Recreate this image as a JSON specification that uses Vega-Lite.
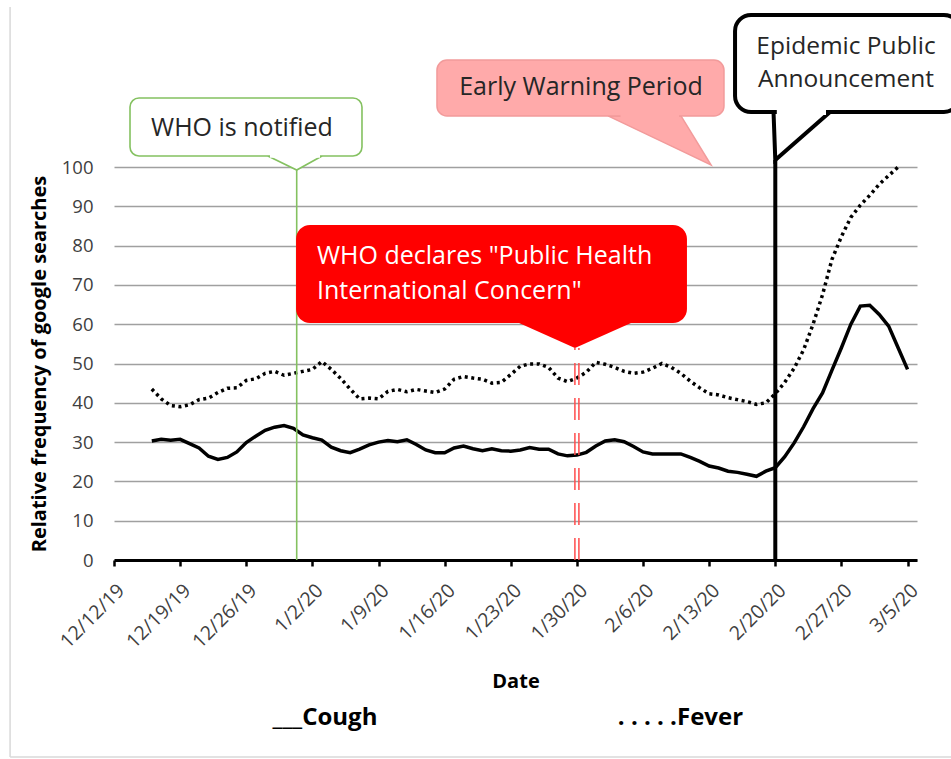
{
  "$schema": "https://vega.github.io/schema/vega-lite/v6.json",
  "width": 803,
  "height": 393,
  "autosize": {"type": "none"},
  "padding": {"left": 114, "top": 167, "right": 34, "bottom": 199},
  "background": "white",
  "config": {"font": "Open Sans", "view": {"stroke": null}},
  "data": {"values": [{}]},
  "resolve": {"axis": {"x": "independent", "y": "independent"}},
  "datasets": {
    "trends": [
      {"date": "2019-12-16T00:00", "cough": 30.3, "fever": 43.5},
      {"date": "2019-12-17T00:00", "cough": 30.7, "fever": 41},
      {"date": "2019-12-18T00:00", "cough": 30.5, "fever": 39.3},
      {"date": "2019-12-19T00:00", "cough": 30.7, "fever": 39},
      {"date": "2019-12-20T00:00", "cough": 29.6, "fever": 39.5},
      {"date": "2019-12-21T00:00", "cough": 28.5, "fever": 40.8},
      {"date": "2019-12-22T00:00", "cough": 26.4, "fever": 41.2},
      {"date": "2019-12-23T00:00", "cough": 25.6, "fever": 42.6},
      {"date": "2019-12-24T00:00", "cough": 26.1, "fever": 43.7},
      {"date": "2019-12-25T00:00", "cough": 27.5, "fever": 43.8},
      {"date": "2019-12-26T00:00", "cough": 29.9, "fever": 45.7},
      {"date": "2019-12-27T00:00", "cough": 31.5, "fever": 46.1},
      {"date": "2019-12-28T00:00", "cough": 33, "fever": 47.5},
      {"date": "2019-12-29T00:00", "cough": 33.8, "fever": 48},
      {"date": "2019-12-30T00:00", "cough": 34.2, "fever": 47},
      {"date": "2019-12-31T00:00", "cough": 33.5, "fever": 47.5},
      {"date": "2020-01-01T00:00", "cough": 31.8, "fever": 48},
      {"date": "2020-01-02T00:00", "cough": 31.1, "fever": 48.5},
      {"date": "2020-01-03T00:00", "cough": 30.5, "fever": 50.5},
      {"date": "2020-01-04T00:00", "cough": 28.7, "fever": 48.5},
      {"date": "2020-01-05T00:00", "cough": 27.8, "fever": 46.2},
      {"date": "2020-01-06T00:00", "cough": 27.3, "fever": 43.5},
      {"date": "2020-01-07T00:00", "cough": 28.2, "fever": 41},
      {"date": "2020-01-08T00:00", "cough": 29.3, "fever": 41.2},
      {"date": "2020-01-09T00:00", "cough": 30, "fever": 41},
      {"date": "2020-01-10T00:00", "cough": 30.4, "fever": 42.9},
      {"date": "2020-01-11T00:00", "cough": 30.1, "fever": 43.4},
      {"date": "2020-01-12T00:00", "cough": 30.6, "fever": 42.8},
      {"date": "2020-01-13T00:00", "cough": 29.4, "fever": 43.4},
      {"date": "2020-01-14T00:00", "cough": 28, "fever": 43},
      {"date": "2020-01-15T00:00", "cough": 27.3, "fever": 42.6},
      {"date": "2020-01-16T00:00", "cough": 27.3, "fever": 43.5},
      {"date": "2020-01-17T00:00", "cough": 28.5, "fever": 46},
      {"date": "2020-01-18T00:00", "cough": 29, "fever": 46.7},
      {"date": "2020-01-19T00:00", "cough": 28.3, "fever": 46.3},
      {"date": "2020-01-20T00:00", "cough": 27.8, "fever": 46},
      {"date": "2020-01-21T00:00", "cough": 28.3, "fever": 45},
      {"date": "2020-01-22T00:00", "cough": 27.8, "fever": 45.2},
      {"date": "2020-01-23T00:00", "cough": 27.7, "fever": 47.2},
      {"date": "2020-01-24T00:00", "cough": 28, "fever": 49.3},
      {"date": "2020-01-25T00:00", "cough": 28.6, "fever": 49.9},
      {"date": "2020-01-26T00:00", "cough": 28.2, "fever": 49.9},
      {"date": "2020-01-27T00:00", "cough": 28.2, "fever": 49},
      {"date": "2020-01-28T00:00", "cough": 27, "fever": 46.3},
      {"date": "2020-01-29T00:00", "cough": 26.5, "fever": 45.4},
      {"date": "2020-01-30T00:00", "cough": 26.7, "fever": 46.3},
      {"date": "2020-01-31T00:00", "cough": 27.4, "fever": 47.8},
      {"date": "2020-02-01T00:00", "cough": 29, "fever": 50.3},
      {"date": "2020-02-02T00:00", "cough": 30.3, "fever": 49.8},
      {"date": "2020-02-03T00:00", "cough": 30.6, "fever": 49},
      {"date": "2020-02-04T00:00", "cough": 30.1, "fever": 48},
      {"date": "2020-02-05T00:00", "cough": 28.9, "fever": 47.5},
      {"date": "2020-02-06T00:00", "cough": 27.5, "fever": 47.8},
      {"date": "2020-02-07T00:00", "cough": 27, "fever": 48.8},
      {"date": "2020-02-08T00:00", "cough": 27, "fever": 50},
      {"date": "2020-02-09T00:00", "cough": 27, "fever": 49},
      {"date": "2020-02-10T00:00", "cough": 27, "fever": 47.5},
      {"date": "2020-02-11T00:00", "cough": 26.1, "fever": 45.5},
      {"date": "2020-02-12T00:00", "cough": 25.1, "fever": 43.8},
      {"date": "2020-02-13T00:00", "cough": 23.9, "fever": 42.3},
      {"date": "2020-02-14T00:00", "cough": 23.4, "fever": 42},
      {"date": "2020-02-15T00:00", "cough": 22.6, "fever": 41.3},
      {"date": "2020-02-16T00:00", "cough": 22.3, "fever": 40.8},
      {"date": "2020-02-17T00:00", "cough": 21.8, "fever": 40.3},
      {"date": "2020-02-18T00:00", "cough": 21.3, "fever": 39.6},
      {"date": "2020-02-19T00:00", "cough": 22.6, "fever": 40},
      {"date": "2020-02-20T00:00", "cough": 23.5, "fever": 42.3},
      {"date": "2020-02-21T00:00", "cough": 26.3, "fever": 45.2},
      {"date": "2020-02-22T00:00", "cough": 29.8, "fever": 48.8},
      {"date": "2020-02-23T00:00", "cough": 33.9, "fever": 53.5},
      {"date": "2020-02-24T00:00", "cough": 38.5, "fever": 60},
      {"date": "2020-02-25T00:00", "cough": 42.5, "fever": 67.5},
      {"date": "2020-02-26T00:00", "cough": 48.3, "fever": 76.5},
      {"date": "2020-02-27T00:00", "cough": 54, "fever": 82.3},
      {"date": "2020-02-28T00:00", "cough": 60, "fever": 87.2},
      {"date": "2020-02-29T00:00", "cough": 64.6, "fever": 90.3},
      {"date": "2020-03-01T00:00", "cough": 64.8, "fever": 92.8},
      {"date": "2020-03-02T00:00", "cough": 62.5, "fever": 95.6},
      {"date": "2020-03-03T00:00", "cough": 59.5, "fever": 97.8},
      {"date": "2020-03-04T00:00", "cough": 54, "fever": 100},
      {"date": "2020-03-05T00:00", "cough": 48.5, "fever": null}
    ]
  },
  "layer": [
    {
      "data": {"name": "trends"},
      "mark": {"type": "line", "stroke": "#000000", "strokeWidth": 3.5, "strokeDash": [3, 3.6]},
      "encoding": {
        "x": {
          "field": "date", "type": "temporal",
          "scale": {"domain": [{"year": 2019, "month": 12, "date": 12}, {"year": 2020, "month": 3, "date": 6}], "nice": false},
          "axis": {
            "title": "Date", "titleFontSize": 20, "titleFontWeight": "bold", "titleColor": "#000000", "titlePadding": 20,
            "values": [
              {"year": 2019, "month": 12, "date": 12}, {"year": 2019, "month": 12, "date": 19}, {"year": 2019, "month": 12, "date": 26},
              {"year": 2020, "month": 1, "date": 2}, {"year": 2020, "month": 1, "date": 9}, {"year": 2020, "month": 1, "date": 16},
              {"year": 2020, "month": 1, "date": 23}, {"year": 2020, "month": 1, "date": 30}, {"year": 2020, "month": 2, "date": 6},
              {"year": 2020, "month": 2, "date": 13}, {"year": 2020, "month": 2, "date": 20}, {"year": 2020, "month": 2, "date": 27},
              {"year": 2020, "month": 3, "date": 5}
            ],
            "format": "%-m/%-d/%y", "labelAngle": -45, "labelAlign": "right", "labelBaseline": "middle",
            "labelFontSize": 19.5, "labelColor": "#404040", "labelPadding": 21, "labelOffset": 7,
            "labelOverlap": false, "labelFlush": false, "grid": false,
            "domainColor": "#000000", "domainWidth": 3, "tickColor": "#000000", "tickWidth": 2.5, "tickSize": 6
          }
        },
        "y": {
          "field": "fever", "type": "quantitative",
          "scale": {"domain": [0, 100], "nice": false},
          "axis": {
            "title": "Relative frequency of google searches", "titleFontSize": 20, "titleFontWeight": "bold", "titleColor": "#000000", "titlePadding": 12,
            "values": [0, 10, 20, 30, 40, 50, 60, 70, 80, 90, 100],
            "labelFontSize": 18.5, "labelColor": "#404040", "labelPadding": 21, "labelOverlap": false,
            "ticks": false, "domain": false, "grid": true, "gridColor": "#a0a0a0", "gridWidth": 1.5
          }
        }
      }
    },
    {
      "data": {"name": "trends"},
      "mark": {"type": "line", "stroke": "#000000", "strokeWidth": 3.5},
      "encoding": {
        "x": {"field": "date", "type": "temporal", "axis": null},
        "y": {"field": "cough", "type": "quantitative", "axis": null}
      }
    },
    {
      "mark": {"type": "rule", "stroke": "#d9d9d9", "strokeWidth": 1.5},
      "encoding": {
        "x": {"datum": {"year": 2019, "month": 12, "date": 1}, "type": "temporal", "axis": null},
        "y": {"datum": -50.1, "type": "quantitative", "axis": null},
        "y2": {"datum": 140.7}
      }
    },
    {
      "mark": {"type": "rule", "stroke": "#d9d9d9", "strokeWidth": 1.5},
      "encoding": {
        "x": {"datum": {"year": 2019, "month": 12, "date": 1}, "type": "temporal", "axis": null},
        "x2": {"datum": {"year": 2020, "month": 3, "date": 10}},
        "y": {"datum": -50.1, "type": "quantitative", "axis": null}
      }
    },
    {
      "mark": {"type": "rule", "stroke": "#84c160", "strokeWidth": 1.6},
      "encoding": {
        "x": {"datum": {"year": 2019, "month": 12, "date": 31, "hours": 8, "minutes": 10}, "type": "temporal", "axis": null},
        "y": {"datum": 0, "type": "quantitative", "axis": null},
        "y2": {"datum": 99.24}
      }
    },
    {
      "mark": {"type": "rule", "stroke": "#ff4d4d", "strokeWidth": 1.5, "strokeDash": [22, 13], "xOffset": -2},
      "encoding": {
        "x": {"datum": {"year": 2020, "month": 1, "date": 30}, "type": "temporal", "axis": null},
        "y": {"datum": 0, "type": "quantitative", "axis": null},
        "y2": {"datum": 53.94}
      }
    },
    {
      "mark": {"type": "rule", "stroke": "#ff4d4d", "strokeWidth": 1.5, "strokeDash": [22, 13], "xOffset": 2},
      "encoding": {
        "x": {"datum": {"year": 2020, "month": 1, "date": 30}, "type": "temporal", "axis": null},
        "y": {"datum": 0, "type": "quantitative", "axis": null},
        "y2": {"datum": 53.94}
      }
    },
    {
      "mark": {"type": "rule", "stroke": "#000000", "strokeWidth": 4},
      "encoding": {
        "x": {"datum": {"year": 2020, "month": 2, "date": 20}, "type": "temporal", "axis": null},
        "y": {"datum": 0, "type": "quantitative", "axis": null},
        "y2": {"datum": 101.8}
      }
    },
    {
      "data": {"values": [
        {"d": "2019-12-28T07:00", "lo": 102.8, "hi": 102.8},
        {"d": "2019-12-31T08:10", "lo": 99.24, "hi": 102.8},
        {"d": "2020-01-03T00:30", "lo": 102.8, "hi": 102.8}
      ]},
      "mark": {"type": "area", "fill": "#ffffff", "stroke": "#84c160", "strokeWidth": 1.6, "fillOpacity": 1},
      "encoding": {
        "x": {"field": "d", "type": "temporal", "axis": null},
        "y": {"field": "lo", "type": "quantitative", "axis": null},
        "y2": {"field": "hi"}
      }
    },
    {
      "mark": {"type": "rect", "fill": "#ffffff", "stroke": "#84c160", "strokeWidth": 1.6, "cornerRadius": 9},
      "encoding": {
        "x": {"datum": {"year": 2019, "month": 12, "date": 13, "hours": 16, "minutes": 40}, "type": "temporal", "axis": null},
        "x2": {"datum": {"year": 2020, "month": 1, "date": 7, "hours": 6}},
        "y": {"datum": 117.56, "type": "quantitative", "axis": null},
        "y2": {"datum": 102.8}
      }
    },
    {
      "mark": {"type": "rule", "stroke": "#ffffff", "strokeWidth": 3.5},
      "encoding": {
        "x": {"datum": {"year": 2019, "month": 12, "date": 28, "hours": 12, "minutes": 15}, "type": "temporal", "axis": null},
        "x2": {"datum": {"year": 2020, "month": 1, "date": 2, "hours": 19, "minutes": 25}},
        "y": {"datum": 102.8, "type": "quantitative", "axis": null}
      }
    },
    {
      "mark": {"type": "text", "text": "WHO is notified", "fontSize": 25, "fill": "#262626", "align": "center", "baseline": "middle"},
      "encoding": {
        "x": {"datum": {"year": 2019, "month": 12, "date": 25, "hours": 13, "minutes": 10}, "type": "temporal", "axis": null},
        "y": {"datum": 109.9, "type": "quantitative", "axis": null}
      }
    },
    {
      "data": {"values": [
        {"d": "2020-02-02T07:00", "lo": 113.0, "hi": 113.0},
        {"d": "2020-02-10T00:30", "lo": 104.15, "hi": 113.0},
        {"d": "2020-02-13T04:50", "lo": 100.5, "hi": 100.5}
      ]},
      "mark": {"type": "area", "fill": "#ffaaaa", "stroke": "#f29b9b", "strokeWidth": 1.5, "fillOpacity": 1},
      "encoding": {
        "x": {"field": "d", "type": "temporal", "axis": null},
        "y": {"field": "lo", "type": "quantitative", "axis": null},
        "y2": {"field": "hi"}
      }
    },
    {
      "mark": {"type": "rect", "fill": "#ffaaaa", "stroke": "#f29b9b", "strokeWidth": 1.5, "cornerRadius": 10},
      "encoding": {
        "x": {"datum": {"year": 2020, "month": 1, "date": 15, "hours": 4, "minutes": 30}, "type": "temporal", "axis": null},
        "x2": {"datum": {"year": 2020, "month": 2, "date": 14, "hours": 13, "minutes": 40}},
        "y": {"datum": 127.2, "type": "quantitative", "axis": null},
        "y2": {"datum": 113.0}
      }
    },
    {
      "mark": {"type": "rule", "stroke": "#ffaaaa", "strokeWidth": 3},
      "encoding": {
        "x": {"datum": {"year": 2020, "month": 2, "date": 3, "hours": 14, "minutes": 40}, "type": "temporal", "axis": null},
        "x2": {"datum": {"year": 2020, "month": 2, "date": 9, "hours": 19, "minutes": 30}},
        "y": {"datum": 113.0, "type": "quantitative", "axis": null}
      }
    },
    {
      "mark": {"type": "text", "text": "Early Warning Period", "fontSize": 25, "fill": "#262626", "align": "center", "baseline": "middle"},
      "encoding": {
        "x": {"datum": {"year": 2020, "month": 1, "date": 30, "hours": 10, "minutes": 20}, "type": "temporal", "axis": null},
        "y": {"datum": 120.4, "type": "quantitative", "axis": null}
      }
    },
    {
      "data": {"values": [
        {"d": "2020-01-23T21:00", "lo": 60.3, "hi": 61.0},
        {"d": "2020-01-29T19:00", "lo": 53.94, "hi": 61.0},
        {"d": "2020-02-04T17:30", "lo": 60.3, "hi": 61.0}
      ]},
      "mark": {"type": "area", "fill": "#ff0000", "fillOpacity": 1},
      "encoding": {
        "x": {"field": "d", "type": "temporal", "axis": null},
        "y": {"field": "lo", "type": "quantitative", "axis": null},
        "y2": {"field": "hi"}
      }
    },
    {
      "mark": {"type": "rect", "fill": "#ff0000", "cornerRadius": 14},
      "encoding": {
        "x": {"datum": {"year": 2019, "month": 12, "date": 31, "hours": 6, "minutes": 30}, "type": "temporal", "axis": null},
        "x2": {"datum": {"year": 2020, "month": 2, "date": 10, "hours": 15, "minutes": 35}},
        "y": {"datum": 85.24, "type": "quantitative", "axis": null},
        "y2": {"datum": 60.3}
      }
    },
    {
      "mark": {"type": "text", "text": ["WHO declares \"Public Health", "International Concern\""], "lineHeight": 35, "fontSize": 25, "fill": "#ffffff", "align": "left", "baseline": "middle"},
      "encoding": {
        "x": {"datum": {"year": 2020, "month": 1, "date": 2, "hours": 11, "minutes": 45}, "type": "temporal", "axis": null},
        "y": {"datum": 77.35, "type": "quantitative", "axis": null}
      }
    },
    {
      "data": {"values": [
        {"d": "2020-02-19T19:30", "lo": 114.0, "hi": 114.0},
        {"d": "2020-02-20T00:00", "lo": 101.8, "hi": 114.0},
        {"d": "2020-02-25T19:00", "lo": 114.0, "hi": 114.0}
      ]},
      "mark": {"type": "area", "fill": "#ffffff", "stroke": "#000000", "strokeWidth": 4, "fillOpacity": 1},
      "encoding": {
        "x": {"field": "d", "type": "temporal", "axis": null},
        "y": {"field": "lo", "type": "quantitative", "axis": null},
        "y2": {"field": "hi"}
      }
    },
    {
      "mark": {"type": "rect", "fill": "#ffffff", "stroke": "#000000", "strokeWidth": 4, "cornerRadius": 16},
      "encoding": {
        "x": {"datum": {"year": 2020, "month": 2, "date": 15, "hours": 17, "minutes": 45}, "type": "temporal", "axis": null},
        "x2": {"datum": {"year": 2020, "month": 3, "date": 10, "hours": 13}},
        "y": {"datum": 138.7, "type": "quantitative", "axis": null},
        "y2": {"datum": 114.0}
      }
    },
    {
      "mark": {"type": "rule", "stroke": "#ffffff", "strokeWidth": 6},
      "encoding": {
        "x": {"datum": {"year": 2020, "month": 2, "date": 20, "hours": 3, "minutes": 50}, "type": "temporal", "axis": null},
        "x2": {"datum": {"year": 2020, "month": 2, "date": 25, "hours": 8, "minutes": 50}},
        "y": {"datum": 114.0, "type": "quantitative", "axis": null}
      }
    },
    {
      "mark": {"type": "text", "text": ["Epidemic Public", "Announcement"], "lineHeight": 33, "fontSize": 24.5, "fill": "#262626", "align": "center", "baseline": "middle"},
      "encoding": {
        "x": {"datum": {"year": 2020, "month": 2, "date": 27, "hours": 11, "minutes": 45}, "type": "temporal", "axis": null},
        "y": {"datum": 130.5, "type": "quantitative", "axis": null}
      }
    },
    {
      "mark": {"type": "text", "text": "___Cough", "fontSize": 24, "fontWeight": "bold", "fill": "#000000", "align": "center", "baseline": "middle"},
      "encoding": {
        "x": {"datum": {"year": 2020, "month": 1, "date": 3, "hours": 8}, "type": "temporal", "axis": null},
        "y": {"datum": -40.2, "type": "quantitative", "axis": null}
      }
    },
    {
      "mark": {"type": "text", "text": ". . . . .Fever", "fontSize": 24, "fontWeight": "bold", "fill": "#000000", "align": "center", "baseline": "middle"},
      "encoding": {
        "x": {"datum": {"year": 2020, "month": 2, "date": 9, "hours": 23}, "type": "temporal", "axis": null},
        "y": {"datum": -40.2, "type": "quantitative", "axis": null}
      }
    }
  ]
}
